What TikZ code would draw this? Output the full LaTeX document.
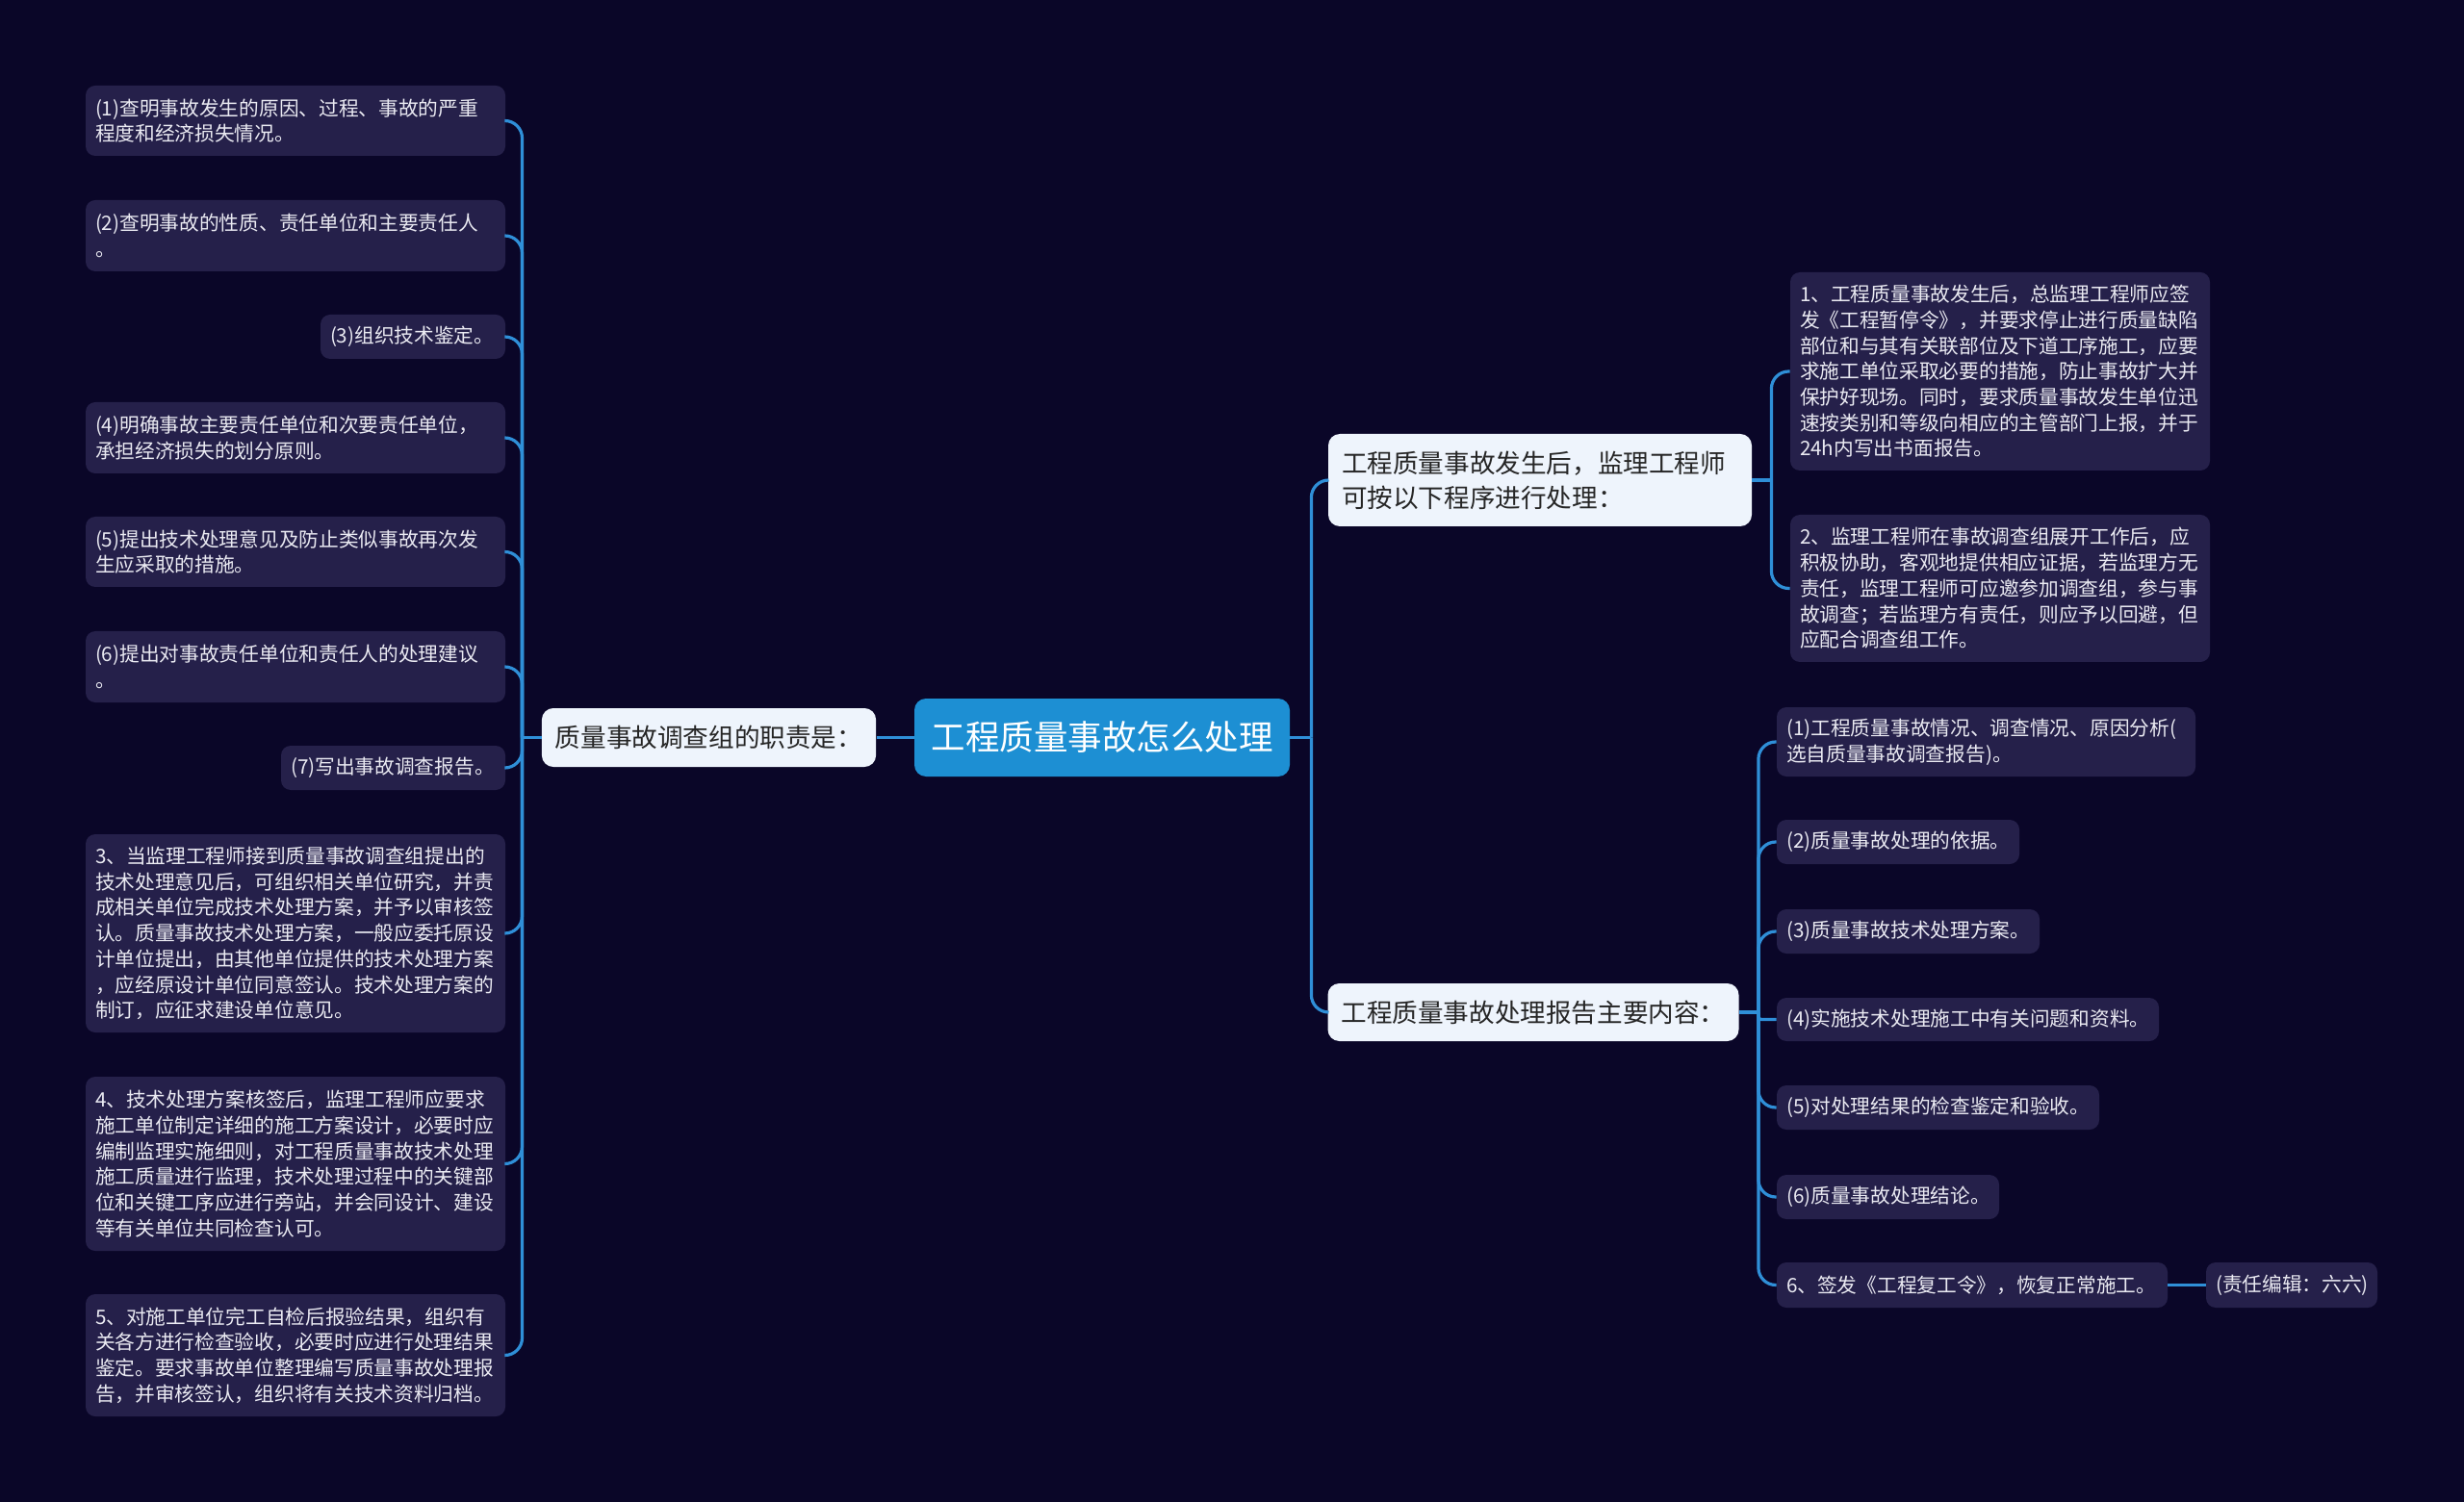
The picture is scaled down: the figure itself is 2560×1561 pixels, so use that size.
\documentclass[tikz,border=0pt]{standalone}
\usepackage{fontspec}
\setmainfont{Noto Sans CJK SC}
\definecolor{bgc}{HTML}{0A0628}
\definecolor{leafc}{HTML}{25204A}
\definecolor{mainc}{HTML}{EEF4FC}
\definecolor{centc}{HTML}{1D8FD3}
\definecolor{linec}{HTML}{2F8FD8}
\definecolor{leaftext}{HTML}{EAEAF2}
\definecolor{maintext}{HTML}{262626}
\tikzset{
  leaf/.style={fill=leafc, rounded corners=5pt, inner xsep=5pt, inner ysep=0pt,
    align=left, text=leaftext, font=\fontsize{10.35}{13.35}\selectfont},
  mainbox/.style={fill=mainc, rounded corners=6pt, inner xsep=7pt, inner ysep=0pt,
    align=left, text=maintext, font=\fontsize{13.3}{18}\selectfont},
  centbox/.style={fill=centc, rounded corners=6pt, inner xsep=8pt, inner ysep=0pt,
    text=white, font=\fontsize{17.75}{22}\selectfont},
  conn/.style={draw=linec, line width=1.6pt},
  rc/.style={rounded corners=9pt}
}
\begin{document}
\begin{tikzpicture}[x=0.5pt,y=-0.5pt]
\fill[bgc] (0,0) rectangle (2560,1561);
\useasboundingbox (0,0) rectangle (2560,1561);

% central and main nodes
\node[centbox, minimum width=195pt, minimum height=40.5pt] (C) at (1145,766.5) {工程质量事故怎么处理};
\node[mainbox, minimum width=173.5pt, minimum height=30.5pt] (LM) at (736.5,766.5) {质量事故调查组的职责是：};
\node[mainbox, minimum width=220pt, minimum height=48pt, text width=206pt] (UM) at (1600,499) {工程质量事故发生后，监理工程师\\可按以下程序进行处理：};
\node[mainbox, minimum width=213pt, minimum height=30pt] (DM) at (1593,1052) {工程质量事故处理报告主要内容：};

% left leaves
\node[leaf, minimum height=36.5pt, text width=208pt] (L1) at (307,125.5) {(1)查明事故发生的原因、过程、事故的严重\\程度和经济损失情况。};
\node[leaf, minimum height=37pt, text width=208pt] (L2) at (307,245) {(2)查明事故的性质、责任单位和主要责任人\\。};
\node[leaf, minimum height=23pt, text width=86pt] (L3) at (429,350) {(3)组织技术鉴定。};
\node[leaf, minimum height=37pt, text width=208pt] (L4) at (307,455) {(4)明确事故主要责任单位和次要责任单位，\\承担经济损失的划分原则。};
\node[leaf, minimum height=36.5pt, text width=208pt] (L5) at (307,573.5) {(5)提出技术处理意见及防止类似事故再次发\\生应采取的措施。};
\node[leaf, minimum height=37pt, text width=208pt] (L6) at (307,693) {(6)提出对事故责任单位和责任人的处理建议\\。};
\node[leaf, minimum height=23pt, text width=106.5pt] (L7) at (408.5,798) {(7)写出事故调查报告。};
\node[leaf, minimum height=103pt, text width=208pt] (L8) at (307,970) {3、当监理工程师接到质量事故调查组提出的\\技术处理意见后，可组织相关单位研究，并责\\成相关单位完成技术处理方案，并予以审核签\\认。质量事故技术处理方案，一般应委托原设\\计单位提出，由其他单位提供的技术处理方案\\，应经原设计单位同意签认。技术处理方案的\\制订，应征求建设单位意见。};
\node[leaf, minimum height=90.5pt, text width=208pt] (L9) at (307,1209.5) {4、技术处理方案核签后，监理工程师应要求\\施工单位制定详细的施工方案设计，必要时应\\编制监理实施细则，对工程质量事故技术处理\\施工质量进行监理，技术处理过程中的关键部\\位和关键工序应进行旁站，并会同设计、建设\\等有关单位共同检查认可。};
\node[leaf, minimum height=63.5pt, text width=208pt] (L10) at (307,1408.5) {5、对施工单位完工自检后报验结果，组织有\\关各方进行检查验收，必要时应进行处理结果\\鉴定。要求事故单位整理编写质量事故处理报\\告，并审核签认，组织将有关技术资料归档。};

% right upper leaves
\node[leaf, minimum height=103pt, text width=208pt] (R1) at (2078,386) {1、工程质量事故发生后，总监理工程师应签\\发《工程暂停令》，并要求停止进行质量缺陷\\部位和与其有关联部位及下道工序施工，应要\\求施工单位采取必要的措施，防止事故扩大并\\保护好现场。同时，要求质量事故发生单位迅\\速按类别和等级向相应的主管部门上报，并于\\24h内写出书面报告。};
\node[leaf, minimum height=76.5pt, text width=208pt] (R2) at (2078,611.5) {2、监理工程师在事故调查组展开工作后，应\\积极协助，客观地提供相应证据，若监理方无\\责任，监理工程师可应邀参加调查组，参与事\\故调查；若监理方有责任，则应予以回避，但\\应配合调查组工作。};

% right lower leaves
\node[leaf, minimum height=36pt, text width=207.5pt] (Q1) at (2063.5,771) {(1)工程质量事故情况、调查情况、原因分析(\\选自质量事故调查报告)。};
\node[leaf, minimum height=23pt, text width=116pt] (Q2) at (1972,875) {(2)质量事故处理的依据。};
\node[leaf, minimum height=23pt, text width=126.5pt] (Q3) at (1982.5,968) {(3)质量事故技术处理方案。};
\node[leaf, minimum height=22.5pt, text width=188.5pt] (Q4) at (2044.5,1059.5) {(4)实施技术处理施工中有关问题和资料。};
\node[leaf, minimum height=23pt, text width=157.5pt] (Q5) at (2013.5,1151) {(5)对处理结果的检查鉴定和验收。};
\node[leaf, minimum height=23pt, text width=105.5pt] (Q6) at (1961.5,1244) {(6)质量事故处理结论。};
\node[leaf, minimum height=23.5pt, text width=193pt] (Q7) at (2049,1335.5) {6、签发《工程复工令》，恢复正常施工。};
\node[leaf, minimum height=23.5pt, text width=79pt] (Q8) at (2381,1335.5) {(责任编辑：六六)};

% junctions
\coordinate (jL) at ([xshift=-10pt]LM.west);
\coordinate (jC) at ([xshift=11pt]C.east);
\coordinate (jU) at ([xshift=10pt]UM.east);
\coordinate (jD) at ([xshift=10pt]DM.east);

% connectors
\draw[conn] (C.west) -- (LM.east);
\draw[conn] (LM.west) -- (jL);
\foreach \n in {L1,L2,L3,L4,L5,L6,L7,L8,L9,L10}
  \draw[conn,rc] (jL) |- (\n.east);
\draw[conn] (C.east) -- (jC);
\draw[conn,rc] (jC) |- (UM.west);
\draw[conn,rc] (jC) |- (DM.west);
\draw[conn] (UM.east) -- (jU);
\draw[conn,rc] (jU) |- (R1.west);
\draw[conn,rc] (jU) |- (R2.west);
\draw[conn] (DM.east) -- (jD);
\foreach \n in {Q1,Q2,Q3,Q5,Q6,Q7}
  \draw[conn,rc] (jD) |- (\n.west);
\draw[conn,rounded corners=1.5pt] (jD) |- (Q4.west);
\draw[conn] (Q7.east) -- (Q8.west);
\end{tikzpicture}
\end{document}
